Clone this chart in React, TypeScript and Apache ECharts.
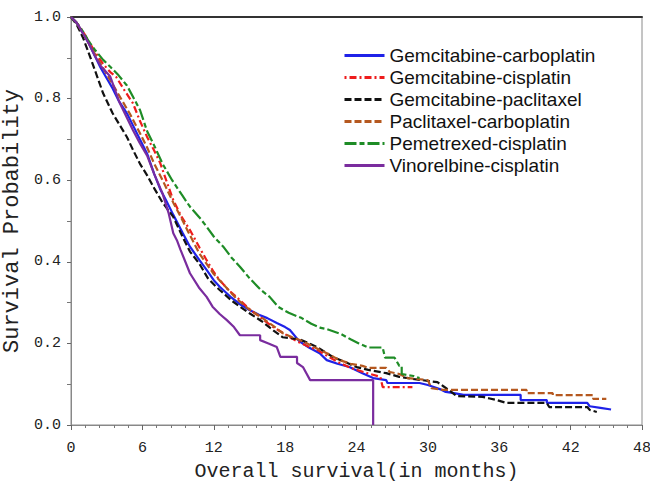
import React, { useEffect, useRef } from "react";
import * as echarts from "echarts";

// Kaplan-Meier style curves: [months, survival probability]
const seriesNames = [
  "Gemcitabine-carboplatin",
  "Gemcitabine-cisplatin",
  "Gemcitabine-paclitaxel",
  "Paclitaxel-carboplatin",
  "Pemetrexed-cisplatin",
  "Vinorelbine-cisplatin",
];

const gemCarbo: [number, number][] = [
  [0, 1], [0.5, 0.985], [1, 0.96], [1.5, 0.935], [2, 0.905], [2.5, 0.875], [3, 0.85],
  [3.5, 0.825], [4, 0.795], [4.7, 0.764], [5.2, 0.735], [5.8, 0.7], [6.4, 0.665],
  [7, 0.615], [7.5, 0.578], [8, 0.55], [8.6, 0.515], [9.4, 0.47], [10, 0.437],
  [10.8, 0.404], [11.4, 0.38], [12, 0.355], [12.5, 0.339], [13.5, 0.312], [14.2, 0.296],
  [15, 0.282], [15.8, 0.27], [16.5, 0.262], [17.3, 0.25], [18, 0.24], [18.4, 0.233],
  [19.2, 0.205], [20, 0.19], [20.9, 0.176], [21.5, 0.159], [22.4, 0.15], [23.4, 0.142],
  [24.5, 0.127], [25.4, 0.115], [26.5, 0.11], [26.6, 0.103], [29.3, 0.103], [30, 0.098],
  [31, 0.088], [31.5, 0.081], [32.2, 0.078], [33, 0.074], [37.8, 0.074], [37.8, 0.061],
  [40, 0.061], [40, 0.054], [43.4, 0.054], [43.6, 0.046], [44.5, 0.042], [45.4, 0.038],
];

const gemCis: [number, number][] = [
  [0, 1], [0.5, 0.985], [1, 0.965], [1.5, 0.94], [2, 0.915], [2.7, 0.885], [3.3, 0.865],
  [3.8, 0.853], [4.5, 0.82], [5.2, 0.789], [5.8, 0.745], [6.4, 0.706], [7, 0.672],
  [7.5, 0.642], [8, 0.6], [8.6, 0.551], [9.3, 0.51], [10, 0.478], [10.8, 0.435],
  [11.4, 0.404], [12, 0.375], [12.5, 0.355], [13.2, 0.332], [13.9, 0.314], [15, 0.284],
  [16, 0.262], [17, 0.24], [17.8, 0.226], [19, 0.205], [20, 0.192], [20.7, 0.184],
  [21.6, 0.168], [22.6, 0.152], [23.5, 0.14], [24.9, 0.127], [26, 0.118], [26.2, 0.093],
  [28.7, 0.093],
];

const gemPac: [number, number][] = [
  [0, 1], [0.5, 0.98], [1, 0.95], [1.6, 0.903], [2.2, 0.854], [2.7, 0.813], [3.5, 0.764],
  [4.1, 0.735], [4.7, 0.706], [5.2, 0.675], [5.8, 0.64], [6.4, 0.612], [7, 0.58],
  [7.7, 0.545], [8.6, 0.51], [9.4, 0.46], [10, 0.425], [10.8, 0.395], [11.5, 0.36],
  [12.2, 0.339], [12.5, 0.331], [13.5, 0.305], [14.2, 0.29], [15, 0.274], [16, 0.255],
  [17, 0.232], [17.8, 0.215], [19.2, 0.21], [20, 0.2], [20.7, 0.191], [21.4, 0.178],
  [22, 0.167], [23, 0.155], [24, 0.142], [25, 0.135], [26.5, 0.127], [27.6, 0.118],
  [28.7, 0.113], [30, 0.108], [30.8, 0.105], [31.3, 0.095], [31.8, 0.085], [32.1, 0.078],
  [32.4, 0.071], [34.6, 0.069], [35.2, 0.065], [35.8, 0.061], [36.6, 0.054], [40, 0.054],
  [40.2, 0.044], [43.4, 0.044], [43.6, 0.037], [44.2, 0.032],
];

const pacCarbo: [number, number][] = [
  [0, 1], [0.5, 0.985], [1, 0.96], [1.5, 0.935], [2, 0.91], [2.7, 0.875], [3.5, 0.835],
  [4.2, 0.8], [5, 0.76], [5.8, 0.715], [6.4, 0.68], [7, 0.64], [7.7, 0.6], [8.6, 0.545],
  [9.4, 0.5], [10, 0.465], [10.8, 0.42], [11.4, 0.395], [12, 0.37], [12.8, 0.345],
  [13.9, 0.31], [15, 0.283], [16, 0.264], [17, 0.243], [17.8, 0.225], [18.6, 0.215],
  [19.5, 0.205], [20.5, 0.19], [21.5, 0.176], [22.5, 0.16], [23.5, 0.15], [24.5, 0.145],
  [25, 0.14], [26.5, 0.14], [26.8, 0.13], [27.6, 0.125], [28.3, 0.115], [30, 0.11],
  [30.3, 0.09], [31.3, 0.086], [38.3, 0.086], [38.3, 0.078], [40.5, 0.078], [40.5, 0.073],
  [43.9, 0.073], [43.9, 0.064], [45, 0.064],
];

const pemCis: [number, number][] = [
  [0, 1], [0.5, 0.985], [1, 0.965], [1.5, 0.94], [2, 0.92], [2.7, 0.895], [3.3, 0.878],
  [4, 0.857], [4.7, 0.832], [5.2, 0.805], [5.8, 0.772], [6.4, 0.72], [6.9, 0.691],
  [7.7, 0.64], [8.5, 0.6], [9.3, 0.565], [10, 0.535], [10.9, 0.505], [11.4, 0.486],
  [12, 0.462], [12.8, 0.437], [13.5, 0.41], [14.2, 0.388], [15, 0.36], [16, 0.33],
  [16.7, 0.314], [17.4, 0.29], [18.3, 0.275], [19.4, 0.262], [20.2, 0.248], [21, 0.238],
  [21.5, 0.235], [22.7, 0.223], [23.5, 0.21], [24.2, 0.2], [25, 0.19], [26.2, 0.19],
  [26.4, 0.165], [27.2, 0.165], [27.6, 0.145], [27.8, 0.145], [27.8, 0.125], [28.8, 0.12],
  [29.3, 0.115],
];

const vinCis: [number, number][] = [
  [0, 1], [0.5, 0.985], [1, 0.96], [1.5, 0.935], [2, 0.905], [2.5, 0.88], [3.3, 0.854],
  [4.1, 0.789], [5.2, 0.723], [5.8, 0.69], [6.4, 0.66], [7, 0.615], [7.7, 0.567],
  [8.2, 0.52], [8.6, 0.47], [8.9, 0.453], [9.2, 0.43], [10, 0.372], [10.8, 0.335],
  [11.4, 0.314], [11.9, 0.29], [12.5, 0.272], [13.1, 0.257], [13.7, 0.24], [14.2, 0.22],
  [15.9, 0.22], [15.9, 0.208], [16.6, 0.2], [17.3, 0.191], [17.6, 0.167], [19, 0.167],
  [19, 0.152], [19.5, 0.142], [20.1, 0.11], [25.4, 0.11], [25.4, 0.0],
];

const seriesData = [gemCarbo, gemCis, gemPac, pacCarbo, pemCis, vinCis];
const seriesColors = ["#1f22e8", "#ee1c1c", "#111111", "#b5581f", "#1e8c26", "#7a2c9e"];
const seriesDash: any[] = ["solid", [2, 3, 7, 3], [7, 3], [7, 3], [12, 3, 5, 3], "solid"];

const xTicks = [0, 6, 12, 18, 24, 30, 36, 42, 48];
const yTicks = [0, 0.2, 0.4, 0.6, 0.8, 1.0];

export default function App() {
  const ref = useRef<HTMLDivElement>(null);
  useEffect(() => {
    if (!ref.current) return;
    const chart = echarts.init(ref.current, null, { renderer: "svg" });
    const mono = "Liberation Mono";
    chart.setOption({
      animation: false,
      backgroundColor: "#ffffff",
      grid: {
        left: 71,
        right: 8,
        top: 17,
        bottom: 62,
        show: true,
        borderColor: "#8a8a8a",
        borderWidth: 1,
        containLabel: false,
        outerBoundsMode: "none",
      },
      legend: {
        data: seriesNames,
        orient: "vertical",
        left: 338,
        top: 41,
        itemWidth: 40,
        itemHeight: 14,
        itemGap: 3,
        itemStyle: { opacity: 0 },
        lineStyle: { width: 3 },
        textStyle: {
          fontFamily: "Liberation Sans",
          fontSize: 19,
          color: "#111",
        },
      },
      xAxis: [
        {
          type: "value",
          min: 0,
          max: 48,
          interval: 6,
          offset: 4,
          name: "Overall survival(in months)",
          nameLocation: "middle",
          nameGap: 32,
          nameTextStyle: { fontFamily: mono, fontSize: 20, color: "#222" },
          axisLine: { show: true, lineStyle: { color: "#888", width: 1 } },
          axisTick: { show: true, length: 5, lineStyle: { color: "#666" } },
          minorTick: { show: true, splitNumber: 5, length: 3, lineStyle: { color: "#777" } },
          axisLabel: {
            fontFamily: mono,
            fontSize: 15,
            color: "#222",
            margin: 12,
            formatter: (v: number) => (xTicks.includes(v) ? String(v) : ""),
          },
          splitLine: { show: false },
        },
        {
          type: "value",
          min: 0,
          max: 48,
          position: "top",
          axisLine: { show: true, lineStyle: { color: "#333", width: 2 } },
          axisTick: { show: false },
          axisLabel: { show: false },
          splitLine: { show: false },
        },
      ],
      yAxis: {
        type: "value",
        min: 0,
        max: 1,
        interval: 0.2,
        offset: 2,
        name: "Survival Probability",
        nameLocation: "middle",
        nameGap: 44,
        nameRotate: 90,
        nameTextStyle: { fontFamily: mono, fontSize: 22, color: "#222" },
        axisLine: { show: true, lineStyle: { color: "#888", width: 1 } },
        axisTick: { show: true, length: 4, lineStyle: { color: "#666" } },
        minorTick: { show: true, splitNumber: 2, length: 4, lineStyle: { color: "#777" } },
        axisLabel: {
          fontFamily: mono,
          fontSize: 15,
          color: "#222",
          margin: 8,
          formatter: (v: number) => (yTicks.some((t) => Math.abs(t - v) < 1e-6) ? v.toFixed(1) : ""),
        },
        splitLine: { show: false },
      },
      series: seriesNames.map((name, i) => ({
        name,
        type: "line",
        xAxisIndex: 0,
        data: seriesData[i],
        showSymbol: false,
        symbol: "none",
        color: seriesColors[i],
        lineStyle: { color: seriesColors[i], width: 2.2, type: seriesDash[i] },
        emphasis: { disabled: true },
      })),
    });
    return () => chart.dispose();
  }, []);
  return (
    <div
      ref={ref}
      style={{ position: "fixed", left: 0, top: 0, width: 650, height: 487, background: "#fff" }}
    />
  );
}
